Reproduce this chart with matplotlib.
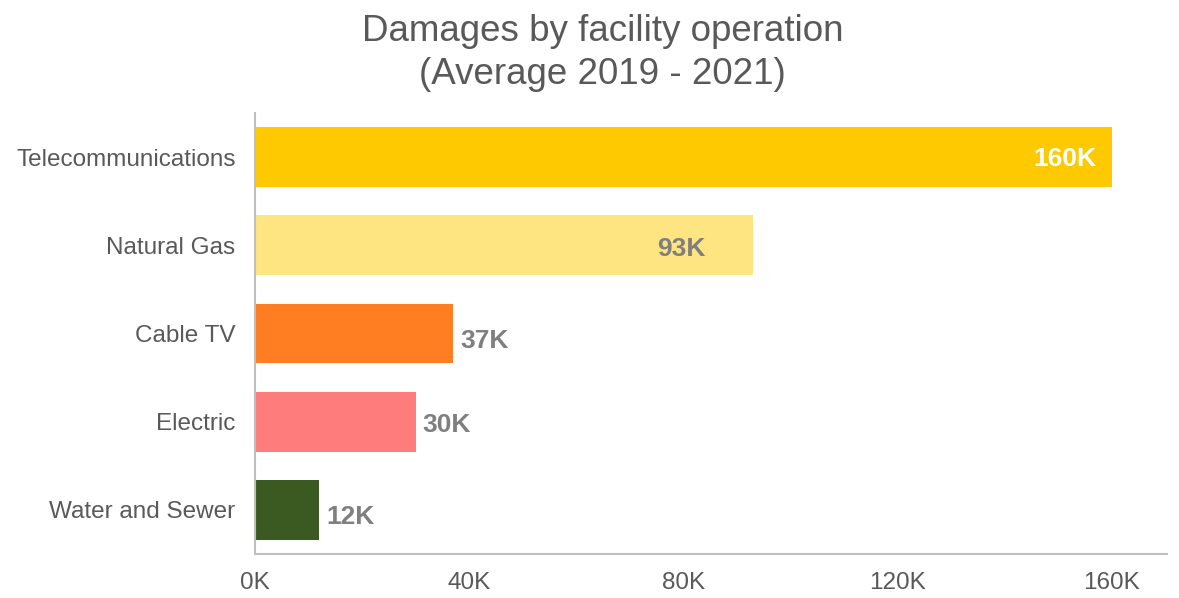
import matplotlib
matplotlib.use("Agg")
import matplotlib.pyplot as plt

# Average annual damages by facility operation, 2019-2021 (thousands)
categories = ["Telecommunications", "Natural Gas", "Cable TV", "Electric", "Water and Sewer"]
damages_k = [160, 93, 37, 30, 12]
bar_colors = ["#FFC900", "#FFE482", "#FF7E21", "#FF7C7C", "#3A5A22"]
value_labels = ["160K", "93K", "37K", "30K", "12K"]
x_ticks = [0, 40, 80, 120, 160]
x_tick_labels = ["0K", "40K", "80K", "120K", "160K"]

plt.rcParams["font.family"] = ["Liberation Sans", "DejaVu Sans"]

fig = plt.figure(figsize=(11.79, 5.98), dpi=100)
ax = fig.add_axes([0.2163, 0.0736, 0.9898 - 0.2163, 0.811 - 0.0736])

y = list(range(len(categories)))
ax.barh(y, damages_k, height=0.68, color=bar_colors, zorder=2)

ax.set_ylim(len(categories) - 0.5, -0.5)
ax.set_xlim(0, 170.3)
ax.set_yticks(y)
ax.set_yticklabels(categories, fontsize=17.5, color="#595959")
ax.set_xticks(x_ticks)
ax.set_xticklabels(x_tick_labels, fontsize=17.5, color="#595959")
ax.tick_params(axis="both", length=0)
ax.tick_params(axis="y", pad=14)
ax.tick_params(axis="x", pad=13)

for side in ("top", "right"):
    ax.spines[side].set_visible(False)
for side in ("left", "bottom"):
    ax.spines[side].set_color("#BFBFBF")
    ax.spines[side].set_linewidth(1.5)

# Value labels: the two longest bars carry theirs inside the bar end,
# the shorter ones just past it
label_style = dict(fontsize=19, fontweight="bold", va="center",
                   textcoords="offset points")
label_offsets = [(-11, -1), (-34, -3), (5, -5.5), (5, -2.5), (5, -5)]
for i, (v, txt) in enumerate(zip(damages_k, value_labels)):
    inside = i < 2
    ax.annotate(txt, (v, i), xytext=label_offsets[i],
                ha="right" if inside else "left",
                color="white" if i == 0 else "#7F7F7F", **label_style)

fig.text(0.511, 1 - 41 / 598, "Damages by facility operation",
         ha="center", va="baseline", fontsize=26.5, color="#595959")
fig.text(0.511, 1 - 84 / 598, "(Average 2019 - 2021)",
         ha="center", va="baseline", fontsize=26.5, color="#595959")

fig.savefig("out.png", dpi=100)
